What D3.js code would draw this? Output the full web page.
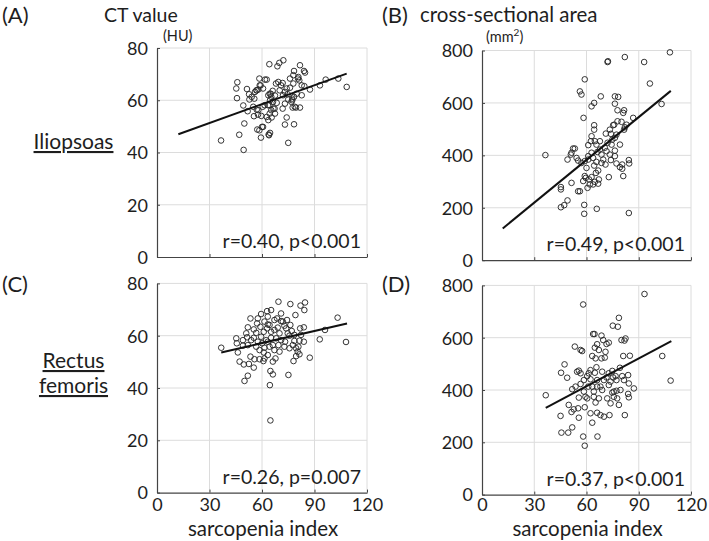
<!DOCTYPE html>
<html><head><meta charset="utf-8">
<script src="https://cdn.jsdelivr.net/npm/d3@7/dist/d3.min.js"></script>
<style>
body{margin:0;background:#fff;}
svg{display:block;font-family:Lato,"Open Sans",sans-serif;}
</style></head>
<body>
<svg id="chart" width="709" height="541"></svg>
<script>
// ---------- data ----------
const xTicks = [0, 30, 60, 90, 120];
const ctTicks = [0, 20, 40, 60, 80];
const areaTicks = [0, 200, 400, 600, 800];
const rowLabels = ["Iliopsoas", "Rectus femoris"];
const panelLetters = ["(A)", "(B)", "(C)", "(D)"];
const columnTitles = ["CT value", "cross-sectional area"];
const xLabel = "sarcopenia index";
const stats = ["r=0.40, p<0.001", "r=0.49, p<0.001", "r=0.26, p=0.007", "r=0.37, p<0.001"];

// [sarcopenia index, CT value HU] – Iliopsoas
const iliopsoasCT = [
[36.6,44.6],[49.5,41.0],[47.0,46.8],[49.9,51.1],[45.9,66.9],[45.3,64.5],[45.7,60.8],[49.3,58.0],[51.8,55.8],[51.4,64.3],
[52.6,62.3],[52.8,60.3],[54.1,61.3],[55.6,60.6],[56.0,63.2],[57.0,63.8],[57.9,64.1],[58.5,68.3],[61.7,67.9],[62.7,67.9],
[59.2,65.7],[55.0,57.5],[57.0,56.4],[55.4,53.9],[57.9,56.2],[60.4,57.5],[59.6,54.0],[57.3,48.8],[58.5,48.5],[60.0,49.8],
[59.4,45.7],[63.8,46.9],[64.6,47.5],[62.7,53.6],[63.6,52.4],[65.5,53.4],[64.2,58.1],[64.6,60.0],[63.6,61.9],[65.0,62.5],
[66.1,63.6],[67.4,61.8],[66.5,56.8],[67.4,54.9],[68.4,59.0],[64.2,73.8],[68.8,73.0],[69.9,74.3],[72.2,75.3],[68.0,66.4],
[69.3,67.0],[70.9,65.7],[71.8,66.6],[74.1,64.5],[73.1,63.2],[74.7,62.3],[76.0,64.8],[71.8,56.8],[73.1,58.7],[75.0,60.3],
[77.3,60.0],[78.3,61.3],[74.1,53.4],[73.1,50.7],[78.3,50.8],[75.0,43.7],[76.0,68.3],[77.9,69.6],[77.9,66.4],[80.8,68.9],
[81.7,73.4],[78.3,71.2],[84.0,71.2],[84.6,70.6],[81.3,67.6],[82.7,65.7],[84.2,65.4],[79.8,62.5],[82.7,61.9],[77.5,57.2],
[79.4,57.2],[81.7,57.2],[87.4,64.1],[93.1,65.7],[96.4,67.9],[103.6,68.3],[108.4,65.1],[65.3,61.3],[64.4,62.5],[66.3,59.4],
[63.4,58.1],[65.3,56.2],[67.2,56.8],[64.4,54.9],[57.7,54.5],[61.5,58.1],[56.8,63.8],[58.7,65.7],[60.6,64.5],[70.1,63.8],
[72.0,61.9],[77.3,60.6],[76.8,59.4],[78.7,57.5],[80.6,68.3],[60.6,49.8],[64.0,46.6]
];
const iliopsoasCTFit = [[12.2,47.0],[108.4,70.2]];

// [sarcopenia index, area mm2] – Iliopsoas
const iliopsoasArea = [
[107.9,793],[82.0,775],[72.1,756],[72.3,759],[93.1,756],[96.4,674],[59.0,690],[56.2,644],[57.1,632],[68.2,625],
[62.9,587],[64.4,600],[76.3,625],[78.2,623],[76.3,597],[77.8,572],[81.6,572],[81.1,562],[86.8,543],[103.1,596],
[58.3,543],[64.4,515],[64.4,498],[62.9,473],[64.8,454],[62.5,454],[61.0,439],[77.8,530],[75.3,515],[73.4,498],
[71.1,483],[74.0,482],[77.2,479],[81.6,498],[83.0,517],[74.8,460],[72.1,448],[70.5,429],[67.7,422],[66.3,413],
[62.9,410],[61.0,397],[63.8,390],[52.3,426],[51.4,410],[53.3,426],[51.0,403],[54.3,390],[55.2,380],[49.1,384],
[57.1,371],[59.0,378],[61.0,384],[65.7,375],[68.6,371],[70.9,365],[74.0,382],[76.3,397],[76.3,418],[80.5,365],
[79.2,355],[80.5,349],[84.3,382],[84.5,369],[81.1,321],[77.2,369],[72.8,317],[66.7,342],[65.4,333],[67.1,308],
[64.8,299],[61.5,308],[59.6,314],[61.9,289],[63.8,289],[60.6,276],[51.4,295],[45.3,279],[45.3,270],[55.2,263],
[56.2,263],[58.7,211],[58.7,177],[65.9,196],[84.3,180],[45.3,202],[47.2,210],[49.1,228],[36.4,401],[65.7,441],
[68.6,403],[71.5,416],[69.6,384],[74.4,441],[76.3,467],[60.0,352],[62.9,317],[66.7,292],[59.0,321],[80.1,528],
[82.0,507],[67.7,454],[58.1,302],[75.9,517],[73.4,403],[79.2,441],[64.4,361]
];
const iliopsoasAreaFit = [[11.9,121],[108.4,646]];

// [sarcopenia index, CT value HU] – Rectus femoris
const rectusCT = [
[36.7,55.4],[69.4,73.0],[76.2,72.1],[82.0,71.5],[84.6,72.7],[84.2,69.8],[79.1,67.9],[103.2,66.9],[96.0,62.2],[93.0,58.6],
[108.0,57.6],[53.4,66.6],[59.5,68.3],[62.9,69.4],[65.2,69.8],[63.3,67.3],[61.4,65.4],[67.1,66.0],[68.6,66.6],[70.9,65.6],
[71.9,65.4],[51.9,63.2],[55.3,62.4],[56.7,61.1],[59.1,63.4],[61.0,61.5],[62.9,62.8],[64.3,64.1],[67.1,62.2],[69.0,63.1],
[73.8,62.8],[76.2,64.1],[77.0,61.8],[74.7,60.9],[81.8,62.8],[83.9,63.2],[45.3,59.0],[45.6,57.1],[46.2,53.6],[51.5,59.4],
[49.1,56.2],[51.9,56.4],[55.3,59.2],[57.6,57.7],[59.5,59.6],[62.4,58.3],[65.2,59.2],[68.1,59.0],[70.9,58.3],[73.2,57.7],
[61.4,55.4],[64.3,55.8],[66.2,56.4],[69.4,56.4],[72.8,55.8],[77.6,56.4],[78.5,58.0],[81.4,58.1],[83.9,57.7],[80.8,55.8],
[80.4,53.9],[79.5,52.2],[81.4,52.9],[58.6,54.5],[61.0,53.6],[63.3,52.6],[47.2,50.1],[49.6,49.0],[52.5,49.2],[55.3,47.8],
[55.7,51.0],[58.6,51.0],[60.8,50.3],[66.2,50.1],[67.7,51.3],[78.0,50.3],[87.3,51.6],[64.8,46.5],[66.2,45.2],[51.9,44.7],
[50.0,42.7],[75.1,45.0],[64.5,41.1],[64.8,27.6],[57.2,64.7],[63.3,64.3],[72.8,63.8],[60.1,57.1],[63.3,57.7],[56.7,55.8],
[67.1,54.5],[70.0,53.9],[75.7,55.2],[79.5,55.2],[49.1,58.3],[53.8,58.3],[53.4,52.0],[75.7,60.0],[70.0,60.9],[65.2,61.5],
[82.3,60.3],[70.9,68.5],[74.3,66.0],[57.6,66.6],[51.0,60.9],[61.4,51.3],[78.5,60.3]
];
const rectusCTFit = [[36.7,53.6],[108.6,64.7]];

// [sarcopenia index, area mm2] – Rectus femoris
const rectusArea = [
[93.3,767],[58.1,727],[78.6,676],[75.1,646],[78.0,642],[63.8,614],[64.6,614],[68.6,608],[80.1,591],[82.4,597],
[81.8,589],[72.8,581],[71.5,576],[66.1,575],[64.8,562],[67.1,553],[70.9,546],[53.3,566],[56.6,553],[57.5,549],
[63.3,530],[65.2,521],[68.6,521],[81.1,530],[84.9,531],[103.5,530],[108.3,436],[47.4,498],[45.4,466],[48.9,447],
[55.6,474],[56.6,464],[60.4,453],[61.3,464],[64.8,466],[69.0,470],[72.8,464],[74.8,473],[79.2,485],[76.7,453],
[80.5,453],[83.9,457],[58.5,438],[62.3,441],[66.1,438],[70.0,438],[73.8,432],[77.2,438],[81.5,438],[84.3,425],
[87.2,406],[51.8,403],[56.6,423],[63.3,413],[68.0,413],[72.8,419],[58.5,394],[64.2,394],[69.0,400],[74.8,390],
[77.2,397],[79.5,400],[36.6,380],[49.8,343],[55.6,371],[59.4,374],[64.2,374],[67.1,368],[71.9,368],[75.7,374],
[77.6,368],[84.3,372],[65.2,352],[78.6,343],[59.0,334],[55.2,330],[52.7,326],[51.4,316],[45.1,301],[55.6,294],
[62.3,311],[66.1,313],[68.0,304],[70.0,298],[73.2,304],[82.0,304],[63.3,275],[45.6,237],[49.5,237],[51.8,257],
[58.1,222],[66.3,222],[59.0,187],[69.6,591],[70.5,524],[65.7,487],[62.3,476],[71.5,448],[75.3,448],[66.1,413],
[61.0,413],[53.7,413],[60.4,368],[73.8,349],[75.7,394],[54.6,470],[83.9,385]
];
const rectusAreaFit = [[36.6,332],[108.7,587]];

// ---------- layout ----------
const panels = [
  {data: iliopsoasCT,   fit: iliopsoasCTFit,   ticks: ctTicks,   stat: stats[0], x0:157, x1:367, yT:48,    yB:257,   showX:false},
  {data: iliopsoasArea, fit: iliopsoasAreaFit, ticks: areaTicks, stat: stats[1], x0:482, x1:691, yT:50.5,  yB:260.2, showX:false},
  {data: rectusCT,      fit: rectusCTFit,      ticks: ctTicks,   stat: stats[2], x0:157, x1:367, yT:283.4, yB:492.6, showX:true},
  {data: rectusArea,    fit: rectusAreaFit,    ticks: areaTicks, stat: stats[3], x0:482, x1:691, yT:285.4, yB:494.6, showX:true}
];
const tickLabelBaseline = 511;

const svg = d3.select("#chart");
const ink = "#1e1e1e";
const grid = "#dcdcdc";

panels.forEach(p => {
  const x = d3.scaleLinear().domain([xTicks[0], xTicks[xTicks.length-1]]).range([p.x0, p.x1]);
  const y = d3.scaleLinear().domain([p.ticks[0], p.ticks[p.ticks.length-1]]).range([p.yB, p.yT]);
  const g = svg.append("g");

  g.selectAll("line.gx").data(xTicks.slice(1)).join("line")
    .attr("x1", d => x(d)).attr("x2", d => x(d)).attr("y1", p.yT).attr("y2", p.yB)
    .attr("stroke", grid).attr("stroke-width", 1);
  g.selectAll("line.gy").data(p.ticks.slice(1)).join("line")
    .attr("y1", d => y(d)).attr("y2", d => y(d)).attr("x1", p.x0).attr("x2", p.x1)
    .attr("stroke", grid).attr("stroke-width", 1);

  const ax = g.append("g").attr("transform", `translate(0,${p.yB})`)
    .call(d3.axisBottom(x).tickValues(xTicks).tickSize(-3).tickPadding(0).tickSizeOuter(0));
  const ay = g.append("g").attr("transform", `translate(${p.x0},0)`)
    .call(d3.axisLeft(y).tickValues(p.ticks).tickSize(-3).tickPadding(9).tickSizeOuter(0));
  [ax, ay].forEach(a => {
    a.select(".domain").attr("stroke", "#444").attr("stroke-width", 1.2);
    a.selectAll(".tick line").attr("stroke", "#444");
    a.selectAll("text").attr("fill", ink).attr("font-size", 18).attr("font-family", "Lato, sans-serif");
  });
  ay.selectAll("text").attr("dy", "0.35em");
  if (!p.showX) ax.selectAll("text").remove();
  else ax.selectAll("text").attr("y", tickLabelBaseline - p.yB).attr("dy", 0);

  g.selectAll("circle").data(p.data).join("circle")
    .attr("cx", d => x(d[0])).attr("cy", d => y(d[1])).attr("r", 2.8)
    .attr("fill", "none").attr("stroke", "#2a2a2a").attr("stroke-width", 0.95);

  g.append("path").datum(p.fit)
    .attr("d", d3.line().x(d => x(d[0])).y(d => y(d[1])))
    .attr("stroke", "#111").attr("stroke-width", 2).attr("fill", "none");

  g.append("text").attr("x", p.x1 - 6).attr("y", p.yB - 9)
    .attr("text-anchor", "end").attr("font-size", 19.5).attr("fill", ink).text(p.stat);

  if (p.showX) {
    g.append("text").attr("x", (p.x0 + p.x1) / 2 + 1).attr("y", 536)
      .attr("text-anchor", "middle").attr("font-size", 20.5).attr("fill", ink).text(xLabel);
  }
});

// panel letters and titles
const letterPos = [[2,23],[382,23],[2,292],[382,292]];
svg.selectAll("text.letter").data(panelLetters).join("text").attr("class","letter")
  .attr("x", (d,i) => letterPos[i][0]).attr("y", (d,i) => letterPos[i][1])
  .attr("font-size", 22).attr("fill", ink).text(d => d);

const titlePos = [[104,22],[420,22]];
svg.selectAll("text.title").data(columnTitles).join("text").attr("class","title")
  .attr("x", (d,i) => titlePos[i][0]).attr("y", (d,i) => titlePos[i][1])
  .attr("font-size", (d,i) => i === 0 ? 19.5 : 20.5).attr("fill", ink).text(d => d);

// units
svg.append("text").attr("x", 163).attr("y", 41).attr("font-size", 14.5).attr("fill", ink).text("(HU)");
const mm = svg.append("text").attr("x", 486).attr("y", 42).attr("font-size", 14.5).attr("fill", ink);
mm.append("tspan").text("(mm");
mm.append("tspan").attr("font-size", 10).attr("dy", -6).text("2");
mm.append("tspan").attr("dy", 6).text(")");

// row labels (underlined)
const rowG = svg.append("g").attr("fill", ink).attr("font-size", 21).attr("text-decoration", "underline");
rowG.append("text").attr("x", 73.5).attr("y", 149).attr("text-anchor", "middle").text(rowLabels[0]);
const rf = rowLabels[1].split(" ");
rowG.append("text").attr("x", 73.5).attr("y", 368).attr("text-anchor", "middle").text(rf[0]);
rowG.append("text").attr("x", 73.5).attr("y", 393).attr("text-anchor", "middle").text(rf[1]);
</script>
</body></html>
